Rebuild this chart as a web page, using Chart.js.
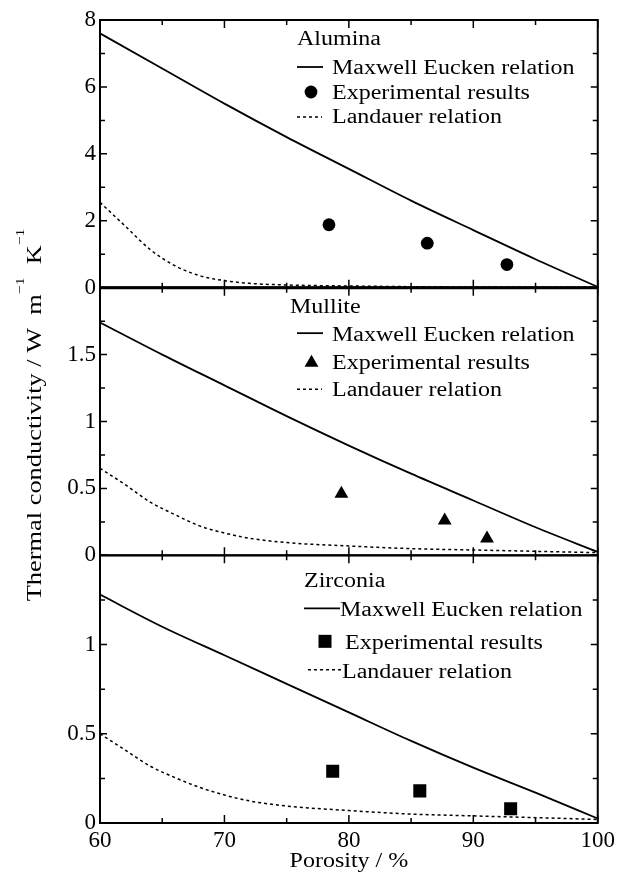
<!DOCTYPE html>
<html>
<head>
<meta charset="utf-8">
<script src="https://cdn.jsdelivr.net/npm/chart.js@4.4.0/dist/chart.umd.min.js"></script>
<style>
    html, body { margin: 0; padding: 0; background: #fff; }
    #wrap { position: relative; width: 619px; height: 872px; }
</style>
</head>
<body>
<div id="wrap"><canvas id="chart" width="619" height="872"></canvas></div>
<script>
// ===== DATA =====
var porosity = [60, 65, 70, 75, 80, 85, 90, 95, 100];
var landauerPorosity = [60, 62, 64, 66, 68, 70, 72, 75, 80, 85, 90, 95, 100];

var aluminaMaxwell = [7.6, 6.55, 5.5, 4.5, 3.55, 2.6, 1.72, 0.85, 0.02];
var aluminaLandauer = [2.55, 1.85, 1.15, 0.66, 0.36, 0.21, 0.13, 0.08, 0.05, 0.03, 0.02, 0.015, 0.01];
var aluminaExpX = [78.4, 86.3, 92.7];
var aluminaExpY = [1.88, 1.33, 0.69];

var mulliteMaxwell = [1.74, 1.5, 1.27, 1.04, 0.82, 0.61, 0.41, 0.21, 0.025];
var mulliteLandauer = [0.65, 0.53, 0.4, 0.305, 0.22, 0.167, 0.128, 0.095, 0.07, 0.05, 0.04, 0.03, 0.02];
var mulliteExpX = [79.4, 87.7, 91.1];
var mulliteExpY = [0.46, 0.26, 0.125];

var zirconiaMaxwell = [1.28, 1.1, 0.94, 0.78, 0.62, 0.46, 0.31, 0.17, 0.025];
var zirconiaLandauer = [0.5, 0.41, 0.32, 0.255, 0.2, 0.157, 0.124, 0.095, 0.07, 0.05, 0.04, 0.03, 0.02];
var zirconiaExpX = [78.7, 85.7, 93.0];
var zirconiaExpY = [0.29, 0.18, 0.08];

var xTicks = [60, 70, 80, 90, 100];
var aluminaTicks = [0, 2, 4, 6, 8];
var mulliteTicks = [0, 0.5, 1, 1.5];
var zirconiaTicks = [0, 0.5, 1];

var panelNames = ['Alumina', 'Mullite', 'Zirconia'];
var seriesNames = ['Maxwell Eucken relation', 'Experimental results', 'Landauer relation'];

// ===== STYLE =====
var FONT = '"Liberation Serif", "Times New Roman", "DejaVu Serif", serif';
var TEXT_STRETCH = 1.2;
var DASH = [3, 3];

function pts(xs, ys) {
    return xs.map(function (x, i) { return { x: x, y: ys[i] }; });
}

function lineSet(label, xs, ys, axis, dashed) {
    return {
        label: label,
        data: pts(xs, ys),
        yAxisID: axis,
        showLine: true,
        borderColor: '#000',
        borderWidth: dashed ? 1.5 : 1.8,
        borderDash: dashed ? DASH : [],
        pointRadius: 0,
        fill: false,
        cubicInterpolationMode: 'monotone'
    };
}

function pointSet(label, xs, ys, axis, style, radius) {
    return {
        label: label,
        data: pts(xs, ys),
        yAxisID: axis,
        showLine: false,
        pointStyle: style,
        pointRadius: radius,
        backgroundColor: '#000',
        borderColor: '#000',
        borderWidth: 0
    };
}

var markers = [
    { style: 'circle', radius: 6.4 },
    { style: 'triangle', radius: 8 },
    { style: 'rect', radius: 9.2 }
];

var datasets = [
    lineSet(seriesNames[0], porosity, aluminaMaxwell, 'yA', false),
    lineSet(seriesNames[2], landauerPorosity, aluminaLandauer, 'yA', true),
    pointSet(seriesNames[1], aluminaExpX, aluminaExpY, 'yA', markers[0].style, markers[0].radius),
    lineSet(seriesNames[0], porosity, mulliteMaxwell, 'yM', false),
    lineSet(seriesNames[2], landauerPorosity, mulliteLandauer, 'yM', true),
    pointSet(seriesNames[1], mulliteExpX, mulliteExpY, 'yM', markers[1].style, markers[1].radius),
    lineSet(seriesNames[0], porosity, zirconiaMaxwell, 'yZ', false),
    lineSet(seriesNames[2], landauerPorosity, zirconiaLandauer, 'yZ', true),
    pointSet(seriesNames[1], zirconiaExpX, zirconiaExpY, 'yZ', markers[2].style, markers[2].radius)
];

function fixedTicks(list) {
    return function (scale) {
        scale.ticks = list.map(function (v) { return { value: v }; });
    };
}

var tickFont = { family: FONT, size: 23 };

function panelAxis(max, list, weight) {
    return {
        type: 'linear',
        position: 'left',
        stack: 'panels',
        stackWeight: 1,
        weight: weight,
        min: 0,
        max: max,
        grid: { display: false, drawTicks: false },
        border: { display: false },
        ticks: {
            color: '#000',
            font: tickFont,
            padding: 4,
            autoSkip: false,
            callback: function (v) { return String(v); }
        },
        afterBuildTicks: fixedTicks(list),
        afterFit: function (scale) { scale.width = 100; }
    };
}

// ===== TEXT HELPERS =====
function drawText(ctx, text, x, y, size, align) {
    ctx.save();
    ctx.font = size + 'px ' + FONT;
    ctx.translate(x, y);
    ctx.scale(TEXT_STRETCH, 1);
    ctx.textAlign = align || 'left';
    ctx.textBaseline = 'alphabetic';
    ctx.fillStyle = '#000';
    ctx.fillText(text, 0, 0);
    ctx.restore();
}

// legend positions, relative to the top of each panel
var legendLayout = [
    { title: [297, 25], line: [297, 323], markX: 311, textX: [332, 332, 332], dash: [297, 322], sym: [47, 72, 97], base: [54, 78.5, 103] },
    { title: [290, 25], line: [297, 323], markX: 311.5, textX: [332, 332, 332], dash: [297, 322], sym: [45.5, 75, 101.5], base: [53, 81, 108] },
    { title: [304, 31.5], line: [304, 340], markX: 325, textX: [340, 345, 342], dash: [308, 341], sym: [53, 86, 114.5], base: [61, 94, 123] }
];

var framePlugin = {
    id: 'panelFrames',
    afterDatasetsDraw: function (chart) {
        var ctx = chart.ctx;
        var xs = chart.scales.x;
        var panels = [chart.scales.yA, chart.scales.yM, chart.scales.yZ];
        var l = xs.left, r = xs.right;

        ctx.save();
        ctx.strokeStyle = '#000';
        ctx.fillStyle = '#000';

        panels.forEach(function (ys, i) {
            var t = ys.top, b = ys.bottom;
            ctx.lineWidth = 2;
            ctx.setLineDash([]);
            ctx.strokeRect(l, t, r - l, b - t);

            // y ticks, pointing inward on both sides
            var list = ys.ticks.map(function (tk) { return tk.value; });
            var step = list[1] - list[0];
            ctx.lineWidth = 1.5;
            for (var k = 0, v = ys.min; v <= ys.max + 1e-9; k++, v += step / 2) {
                var py = ys.getPixelForValue(v);
                var len = k % 2 === 0 ? 7 : 5;
                ctx.beginPath();
                ctx.moveTo(l, py); ctx.lineTo(l + len, py);
                ctx.moveTo(r, py); ctx.lineTo(r - len, py);
                ctx.stroke();
            }

            // x ticks on top and bottom of each panel
            for (var xv = xs.min; xv <= xs.max + 1e-9; xv += 5) {
                var px = xs.getPixelForValue(xv);
                var xl = xv % 10 === 0 ? 8 : 5;
                ctx.beginPath();
                ctx.moveTo(px, t); ctx.lineTo(px, t + xl);
                ctx.moveTo(px, b); ctx.lineTo(px, b - xl);
                ctx.stroke();
            }

            // legend
            var lay = legendLayout[i];
            drawText(ctx, panelNames[i], lay.title[0], t + lay.title[1], 20);

            ctx.lineWidth = 1.8;
            ctx.beginPath();
            ctx.moveTo(lay.line[0], t + lay.sym[0]);
            ctx.lineTo(lay.line[1], t + lay.sym[0]);
            ctx.stroke();
            drawText(ctx, seriesNames[0], lay.textX[0], t + lay.base[0], 20);

            Chart.helpers.drawPoint(ctx, {
                pointStyle: markers[i].style,
                radius: markers[i].radius,
                rotation: 0,
                borderWidth: 0
            }, lay.markX, t + lay.sym[1]);
            drawText(ctx, seriesNames[1], lay.textX[1], t + lay.base[1], 20);

            ctx.lineWidth = 1.5;
            ctx.setLineDash(DASH);
            ctx.beginPath();
            ctx.moveTo(lay.dash[0], t + lay.sym[2]);
            ctx.lineTo(lay.dash[1], t + lay.sym[2]);
            ctx.stroke();
            ctx.setLineDash([]);
            drawText(ctx, seriesNames[2], lay.textX[2], t + lay.base[2], 20);
        });

        // heavier line between the first two panels
        ctx.lineWidth = 3;
        ctx.beginPath();
        ctx.moveTo(l, panels[0].bottom);
        ctx.lineTo(r, panels[0].bottom);
        ctx.stroke();

        // axis titles
        drawText(ctx, 'Porosity / %', (l + r) / 2, 867, 20, 'center');

        var pieces = [
            { t: 'Thermal conductivity / W  m', sup: false },
            { t: '\u22121', sup: true },
            { t: '  K', sup: false },
            { t: '\u22121', sup: true }
        ];
        ctx.save();
        ctx.translate(41, 415);
        ctx.rotate(-Math.PI / 2);
        ctx.scale(TEXT_STRETCH, 1);
        ctx.textBaseline = 'alphabetic';
        var total = 0;
        pieces.forEach(function (p) {
            ctx.font = (p.sup ? 13 : 22) + 'px ' + FONT;
            p.w = ctx.measureText(p.t).width;
            total += p.w;
        });
        var cx = -total / 2;
        pieces.forEach(function (p) {
            ctx.font = (p.sup ? 13 : 22) + 'px ' + FONT;
            ctx.fillText(p.t, cx, p.sup ? -17 : 0);
            cx += p.w;
        });
        ctx.restore();

        ctx.restore();
    }
};

// ===== CHART =====
var chart = new Chart(document.getElementById('chart'), {
    type: 'scatter',
    data: { datasets: datasets },
    options: {
        responsive: false,
        animation: false,
        layout: { padding: { top: 20, right: 18, bottom: 0, left: 0 } },
        plugins: { legend: { display: false }, tooltip: { enabled: false } },
        scales: {
            x: {
                type: 'linear',
                position: 'bottom',
                min: 60,
                max: 100,
                grid: { display: false, drawTicks: false },
                border: { display: false },
                ticks: { color: '#000', font: tickFont, padding: 4, autoSkip: false, maxRotation: 0 },
                afterBuildTicks: fixedTicks(xTicks),
                afterFit: function (scale) { scale.height = 49; }
            },
            yA: panelAxis(8, aluminaTicks, 3),
            yM: panelAxis(2, mulliteTicks, 2),
            yZ: panelAxis(1.5, zirconiaTicks, 1)
        }
    },
    plugins: [framePlugin]
});
</script>
</body>
</html>
